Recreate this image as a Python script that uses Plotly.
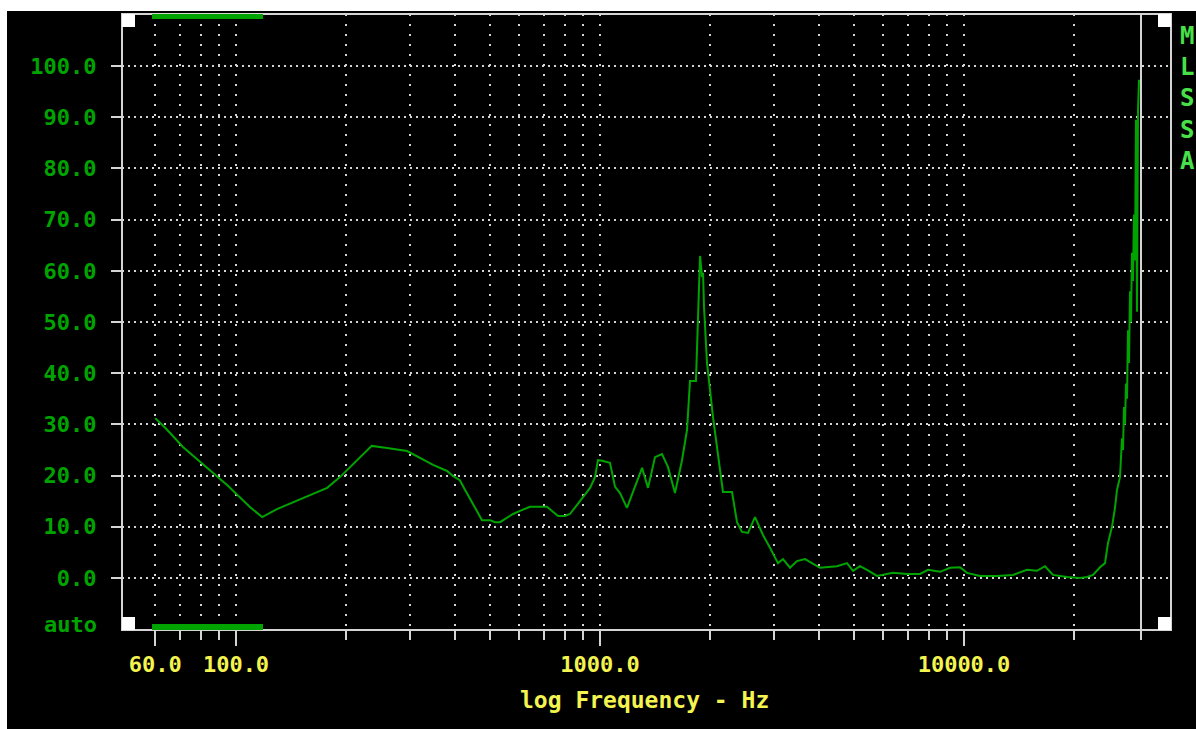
import plotly.graph_objects as go

# ---- data (frequency in Hz, level in dB) ----
freq_hz = [60, 64, 71.5, 83, 95, 109, 118, 130, 141, 160, 178, 193, 212, 236, 260, 295,
           348, 380, 395, 412, 426, 445, 459, 474, 499, 515, 531, 555, 577, 603, 642, 715,
           743, 767, 801, 827, 865, 898, 939, 969, 987, 1013, 1065, 1100, 1135, 1186,
           1305, 1355, 1416, 1480, 1537, 1607, 1680, 1734, 1767, 1835, 1847, 1883, 1907,
           1919, 1931, 1968, 2044, 2177, 2305, 2379, 2455, 2550, 2666, 2804, 2931, 3083,
           3182, 3327, 3477, 3658, 4021, 4478, 4771, 4956, 5180, 5415, 5768, 6383, 6974,
           7570, 7963, 8594, 9152, 9750, 10190, 11066, 12324, 13632, 14899, 15866, 16691,
           17558, 19187, 20834, 21777, 22619, 23640, 24400, 24866, 25503, 25991, 26322,
           26827, 27168, 27341, 27516, 27690, 27866, 28043, 28220, 28400, 28580, 28760,
           28940, 29130, 29310, 29500, 29680, 29870, 30060, 30250]
level_db = [31.2, 29.3, 25.6, 21.7, 18.0, 13.9, 11.9, 13.5, 14.6, 16.2, 17.6, 19.7, 22.5,
            25.8, 25.4, 24.8, 22.1, 20.9, 19.9, 19.1, 17.2, 14.8, 12.9, 11.3, 11.3, 10.9,
            10.9, 11.7, 12.5, 13.1, 13.9, 13.9, 12.9, 12.1, 12.1, 12.5, 14.3, 15.8, 17.6,
            19.7, 23.0, 22.9, 22.5, 17.8, 16.6, 13.7, 21.5, 17.6, 23.6, 24.2, 21.7, 16.6,
            23.0, 28.9, 38.5, 38.5, 44.9, 62.9, 58.8, 59.6, 52.9, 42.0, 31.4, 16.8, 16.8,
            10.9, 9.0, 8.8, 11.9, 8.4, 5.9, 2.9, 3.7, 2.0, 3.3, 3.7, 2.0, 2.3, 2.9, 1.4, 2.3,
            1.6, 0.4, 1.0, 0.8, 0.8, 1.6, 1.2, 2.0, 2.1, 1.0, 0.4, 0.4, 0.6, 1.6, 1.4, 2.3,
            0.6, 0.2, 0.0, 0.2, 0.6, 2.1, 2.9, 6.8, 10.0, 13.7, 17.2, 19.7, 27.3, 25.0, 33.4,
            30.0, 38.0, 35.0, 48.4, 42.0, 56.0, 50.0, 63.5, 58.0, 71.0, 62.0, 89.5, 52.0,
            91.0, 97.3]

x_major_vals = [60, 100, 1000, 10000]
x_major_text = ["60.0", "100.0", "1000.0", "10000.0"]
x_minor_vals = [70, 80, 90, 200, 300, 400, 500, 600, 700, 800, 900,
                2000, 3000, 4000, 5000, 6000, 7000, 8000, 9000, 20000, 30640]
y_tick_vals = [0, 10, 20, 30, 40, 50, 60, 70, 80, 90, 100]
y_tick_text = ["0.0", "10.0", "20.0", "30.0", "40.0", "50.0", "60.0", "70.0", "80.0", "90.0", "100.0"]
x_end_marker = 30640

GREEN = "#00a400"
YELLOW = "#f4f450"
GRID = "#d4d4d4"
MONO = "DejaVu Sans Mono"

fig = go.Figure()
fig.add_trace(go.Scatter(x=freq_hz, y=level_db, mode="lines",
                         line=dict(color=GREEN, width=2), hoverinfo="skip",
                         showlegend=False))

fig.update_layout(
    width=1196, height=729,
    margin=dict(l=122, r=25, t=14, b=99),
    paper_bgcolor="black", plot_bgcolor="black",
    showlegend=False,
    xaxis=dict(
        type="log", range=[1.6868, 4.5687],
        tickmode="array", tickvals=x_major_vals, ticktext=x_major_text,
        ticks="outside", ticklen=15, tickwidth=2, tickcolor=GRID,
        showgrid=True, gridcolor=GRID, gridwidth=2, griddash="2px,8px",
        tickfont=dict(family=MONO, size=22, color=YELLOW, weight="bold"),
        showline=False, zeroline=False,
        minor=dict(tickmode="array", tickvals=x_minor_vals, ticks="outside",
                   ticklen=9, tickwidth=2, tickcolor=GRID,
                   showgrid=True, gridcolor=GRID, gridwidth=2, griddash="2px,8px"),
    ),
    yaxis=dict(
        range=[-10.16, 110.16],
        tickmode="array", tickvals=y_tick_vals, ticktext=y_tick_text,
        ticks="outside", ticklen=10, tickwidth=2, tickcolor=GRID,
        ticklabelstandoff=10,
        showgrid=True, gridcolor=GRID, gridwidth=2, griddash="2px,4px",
        tickfont=dict(family=MONO, size=22, color=GREEN, weight="bold"),
        showline=False, zeroline=False,
    ),
)

shapes = []
# white border strips of the screenshot (left and top)
shapes.append(dict(type="rect", xref="paper", yref="paper", x0=-0.2, x1=(7 - 122) / 1049,
                   y0=-0.3, y1=1.1, fillcolor="white", line_width=0, layer="above"))
shapes.append(dict(type="rect", xref="paper", yref="paper", x0=-0.2, x1=1.1,
                   y0=1 + 3 / 616, y1=1.1, fillcolor="white", line_width=0, layer="above"))
# right end marker line
shapes.append(dict(type="line", xref="x", yref="paper", x0=x_end_marker, x1=x_end_marker,
                   y0=0, y1=1, line=dict(color=GRID, width=2), layer="above"))
# frame
shapes.append(dict(type="rect", xref="paper", yref="paper", x0=0, x1=1, y0=0, y1=1,
                   line=dict(color=GRID, width=2), layer="above"))
# corner squares
sq_w, sq_h = 13 / 1049, 13 / 616
for (cx, cy) in [(0, 1), (1, 1), (0, 0), (1, 0)]:
    x0 = 0 if cx == 0 else 1 - sq_w
    y0 = 1 - sq_h if cy == 1 else 0
    shapes.append(dict(type="rect", xref="paper", yref="paper", x0=x0, x1=x0 + sq_w,
                       y0=y0, y1=y0 + sq_h, fillcolor="white", line_width=0, layer="above"))
# green bars top/bottom
bx0, bx1 = (152 - 122) / 1049, (263 - 122) / 1049
shapes.append(dict(type="rect", xref="paper", yref="paper", x0=bx0, x1=bx1,
                   y0=1 - 5 / 616, y1=1, fillcolor=GREEN, line_width=0, layer="above"))
shapes.append(dict(type="rect", xref="paper", yref="paper", x0=bx0, x1=bx1,
                   y0=0, y1=6 / 616, fillcolor=GREEN, line_width=0, layer="above"))
fig.update_layout(shapes=shapes)

fig.add_annotation(text="auto", xref="paper", yref="y", x=(99 - 122) / 1049, y=-9,
                   xanchor="right", yanchor="middle", showarrow=False,
                   font=dict(family=MONO, size=22, color=GREEN, weight="bold"))
fig.add_annotation(text="log Frequency - Hz", xref="paper", yref="paper",
                   x=(644 - 122) / 1049, y=1 - (700 - 14) / 616,
                   xanchor="center", yanchor="middle", showarrow=False,
                   font=dict(family=MONO, size=23, color=YELLOW, weight="bold"))
fig.add_annotation(text="M<br>L<br>S<br>S<br>A", xref="paper", yref="paper",
                   x=(1187 - 122) / 1049, y=1 - (98 - 14) / 616,
                   xanchor="center", yanchor="middle", showarrow=False,
                   font=dict(family=MONO, size=24, color="#48e048", weight="bold"))

fig.write_html(
    "out.html",
    config={"displayModeBar": False},
    post_script="document.body.style.margin='0px';"
                "document.documentElement.style.overflow='hidden';"
                "document.body.style.overflow='hidden';",
)
